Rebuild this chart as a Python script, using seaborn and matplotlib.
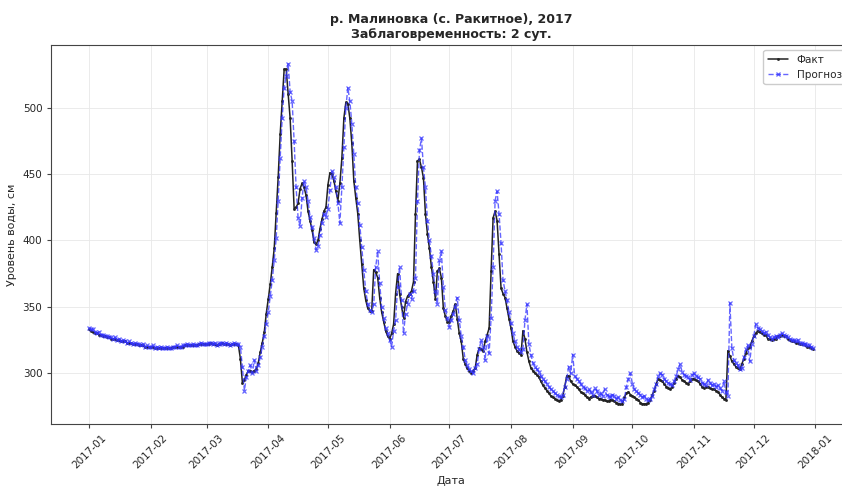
import matplotlib
matplotlib.use("Agg")
import matplotlib.pyplot as plt
import matplotlib.dates as mdates
from matplotlib import font_manager
import seaborn as sns
import pandas as pd

# Daily water level, cm, 2017-01-01 .. 2017-12-31
fact_level = [
    # Jan
    333, 332, 331, 330, 330, 329, 329, 328, 328, 327, 327, 326, 326, 326, 325, 325,
    324, 324, 324, 323, 323, 323, 322, 322, 322, 321, 321, 321, 320, 320, 320,
    # Feb
    320, 320, 319, 319, 319, 319, 319, 319, 319, 319, 319, 320, 320, 320, 320, 320,
    320, 321, 321, 321, 321, 321, 321, 321, 322, 322, 322, 322,
    # Mar
    322, 322, 323, 322, 322, 321, 322, 322, 323, 322, 322, 322, 321, 322, 322, 322,
    321, 311, 293, 295, 299, 302, 302, 301, 302, 303, 308, 316, 323, 331, 345,
    # Apr
    356, 367, 380, 394, 421, 448, 480, 505, 529, 529, 510, 492, 460, 424, 425, 428,
    439, 443, 440, 434, 422, 415, 408, 399, 397, 400, 409, 416, 422, 425,
    # May
    442, 451, 450, 445, 437, 430, 443, 462, 492, 504, 503, 492, 473, 445, 432, 420,
    400, 382, 364, 355, 349, 347, 347, 378, 376, 372, 357, 346, 339, 332, 328,
    # Jun
    326, 330, 337, 360, 375, 360, 350, 342, 354, 358, 360, 362, 369, 420, 460, 461,
    455, 447, 420, 405, 394, 380, 369, 356, 377, 379, 372, 349, 343, 339,
    # Jul
    339, 343, 347, 352, 341, 330, 324, 311, 307, 304, 302, 300, 302, 304, 314, 319,
    318, 317, 324, 329, 334, 377, 417, 422, 415, 390, 364, 360, 357, 349, 341,
    # Aug
    334, 324, 320, 317, 315, 314, 332, 326, 316, 309, 304, 302, 300, 299, 297, 294,
    291, 289, 287, 285, 283, 282, 281, 280, 279, 280, 283, 290, 298, 298, 294,
    # Sep
    292, 291, 290, 288, 286, 285, 284, 282, 281, 282, 283, 283, 282, 281, 281, 280,
    280, 279, 279, 280, 280, 279, 278, 277, 277, 277, 282, 285, 286, 284,
    # Oct
    283, 282, 281, 280, 278, 277, 277, 277, 278, 280, 284, 287, 292, 296, 295, 294,
    292, 290, 289, 288, 290, 293, 296, 298, 297, 295, 294, 293, 292, 294, 296,
    # Nov
    296, 295, 294, 292, 290, 289, 290, 290, 289, 288, 288, 287, 286, 284, 282, 281,
    280, 317, 313, 309, 307, 305, 304, 303, 307, 311, 315, 319, 320, 324,
    # Dec
    328, 330, 332, 331, 330, 329, 329, 326, 326, 325, 326, 326, 328, 328, 329, 328,
    328, 326, 325, 324, 324, 323, 323, 322, 322, 322, 321, 320, 320, 319, 318,
]

# Two-day-ahead forecast, cm
forecast_level = [
    # Jan
    334, 333, 333, 331, 330, 331, 329, 329, 328, 328, 327, 327, 326, 327, 325, 326,
    324, 325, 324, 323, 324, 323, 322, 323, 322, 322, 321, 322, 320, 321, 320,
    # Feb
    320, 321, 319, 320, 319, 320, 319, 319, 320, 319, 319, 320, 320, 321, 320, 320,
    321, 321, 322, 321, 321, 322, 321, 321, 322, 323, 322, 322,
    # Mar
    322, 323, 323, 322, 323, 321, 322, 323, 323, 322, 323, 322, 321, 322, 323, 322,
    322, 320, 305, 287, 297, 302, 306, 300, 310, 302, 306, 312, 320, 328, 337,
    # Apr
    346, 358, 370, 385, 402, 430, 462, 492, 515, 524, 533, 512, 505, 475, 440, 417,
    411, 432, 445, 440, 430, 418, 410, 402, 393, 396, 404, 413, 420, 418,
    # May
    424, 438, 452, 448, 440, 428, 413, 440, 470, 500, 515, 505, 488, 465, 440, 428,
    412, 395, 378, 362, 352, 348, 346, 352, 380, 392, 368, 350, 342, 334, 330,
    # Jun
    325, 320, 332, 340, 365, 380, 355, 330, 345, 352, 360, 356, 362, 372, 430, 468,
    477, 455, 440, 415, 400, 388, 375, 362, 352, 385, 392, 365, 348, 342,
    # Jul
    335, 340, 345, 350, 357, 340, 328, 320, 310, 306, 303, 302, 300, 304, 307, 318,
    325, 320, 310, 328, 315, 342, 380, 430, 437, 420, 398, 370, 362, 355, 346,
    # Aug
    338, 330, 324, 320, 318, 316, 318, 340, 352, 322, 314, 308, 305, 303, 301, 298,
    296, 294, 292, 290, 288, 287, 285, 284, 283, 282, 284, 290, 296, 305, 300,
    # Sep
    314, 298, 296, 294, 292, 290, 289, 287, 288, 286, 284, 289, 287, 284, 285, 283,
    288, 284, 283, 282, 284, 283, 281, 282, 280, 279, 281, 290, 296, 300,
    # Oct
    292, 288, 287, 285, 284, 282, 283, 281, 280, 281, 283, 288, 292, 298, 300, 299,
    296, 294, 293, 292, 291, 294, 298, 303, 307, 301, 299, 298, 297, 295, 299,
    # Nov
    300, 298, 297, 296, 293, 292, 291, 295, 293, 291, 292, 290, 291, 289, 287, 294,
    286, 283, 353, 319, 310, 308, 306, 303, 304, 312, 318, 321, 309, 322,
    # Dec
    328, 337, 334, 333, 332, 330, 331, 329, 327, 326, 327, 328, 327, 329, 330, 329,
    328, 327, 326, 325, 325, 324, 325, 323, 323, 322, 322, 321, 321, 320, 319,
]

dates = pd.date_range("2017-01-01", "2017-12-31", freq="D")
df = pd.DataFrame({"date": dates, "fact": fact_level, "forecast": forecast_level})

title_text = "р. Малиновка (с. Ракитное), 2017\nЗаблаговременность: 2 сут."
x_label = "Дата"
y_label = "Уровень воды, см"
series_labels = ["Факт", "Прогноз"]

sns.set_style("whitegrid", {"grid.color": "#e8e8e8", "axes.edgecolor": "#444444"})

# Prefer a narrow sans face when one is available
available = {f.name for f in font_manager.fontManager.ttflist}
narrow = [n for n in ("Liberation Sans Narrow", "Arial Narrow") if n in available]
plt.rcParams["font.family"] = narrow + ["DejaVu Sans"]

fig = plt.figure(figsize=(8.42, 4.86), dpi=100)
ax = fig.add_axes([0.061, 0.128, 0.95, 0.779])

fact_color = "#222222"
fc_color = "#3333ff"
sns.lineplot(data=df, x="date", y="fact", ax=ax, color=fact_color, linewidth=1.1,
             marker=".", markersize=3, markeredgewidth=0.5,
             markeredgecolor=fact_color, markerfacecolor=fact_color,
             label=series_labels[0], zorder=2)
sns.lineplot(data=df, x="date", y="forecast", ax=ax, color=fc_color, linewidth=1.0,
             linestyle="--", marker="x", markersize=3.5, markeredgewidth=0.9,
             markeredgecolor=fc_color, alpha=0.75, label=series_labels[1], zorder=3)

ax.xaxis.set_major_locator(mdates.MonthLocator())
ax.xaxis.set_major_formatter(mdates.DateFormatter("%Y-%m"))
ax.set_xlim(pd.Timestamp("2016-12-13"), pd.Timestamp("2018-01-19"))
ax.set_ylim(262, 547)
ax.set_yticks([300, 350, 400, 450, 500])

for lab in ax.get_xticklabels():
    lab.set_rotation(45)
    lab.set_ha("center")
ax.tick_params(axis="both", labelsize=7.5, length=3, color="#444444", bottom=True, left=True)

ax.set_title(title_text, fontsize=9, fontweight="bold", pad=5)
ax.set_xlabel(x_label, fontsize=8)
ax.set_ylabel(y_label, fontsize=8)
ax.grid(True, linewidth=0.6)

leg = ax.legend(loc="upper right", fontsize=7.5, frameon=True, framealpha=1,
                edgecolor="#cccccc", fancybox=True)

fig.savefig("out.png", dpi=100)
